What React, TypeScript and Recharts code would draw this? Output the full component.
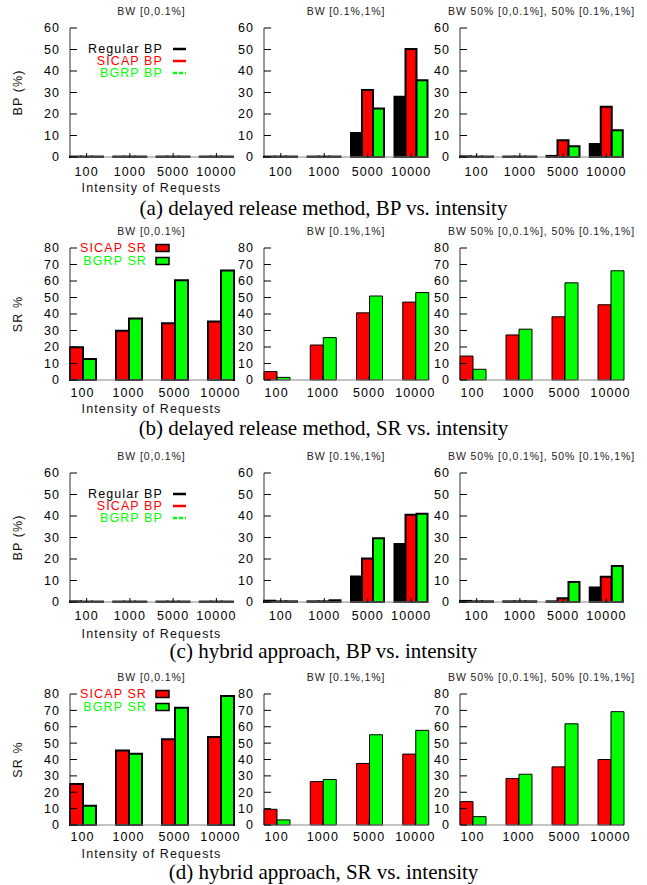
import { BarChart, Bar, XAxis, YAxis, Legend, Label } from "recharts";

// categories
const intensities = ["100", "1000", "5000", "10000"];
const bpTicks = [0, 10, 20, 30, 40, 50, 60];
const srTicks = [0, 10, 20, 30, 40, 50, 60, 70, 80];

const panelTitles = [
  "BW [0,0.1%]",
  "BW [0.1%,1%]",
  "BW 50% [0,0.1%], 50% [0.1%,1%]",
];
const captions = [
  "(a) delayed release method, BP vs. intensity",
  "(b) delayed release method, SR vs. intensity",
  "(c) hybrid approach, BP vs. intensity",
  "(d) hybrid approach, SR vs. intensity",
];

// (a) delayed release, BP (%)
const aRegular1 = [0.2, 0.2, 0.2, 0.2];
const aSicap1 = [0.2, 0.2, 0.2, 0.2];
const aBgrp1 = [0.2, 0.2, 0.2, 0.2];
const aRegular2 = [0.2, 0.2, 11.2, 28];
const aSicap2 = [0.2, 0.2, 31.2, 50.2];
const aBgrp2 = [0.2, 0.2, 22.6, 35.7];
const aRegular3 = [0.3, 0.2, 0.5, 6.1];
const aSicap3 = [0.2, 0.2, 7.8, 23.4];
const aBgrp3 = [0.2, 0.2, 5, 12.5];

// (b) delayed release, SR %
const bSicap1 = [19.8, 29.8, 34.4, 35.4];
const bBgrp1 = [12.8, 37.2, 60.5, 66.4];
const bSicap2 = [5.1, 21.2, 40.7, 47.2];
const bBgrp2 = [1.6, 25.7, 50.9, 53];
const bSicap3 = [14.5, 27.3, 38.3, 45.6];
const bBgrp3 = [6.5, 30.8, 58.9, 66.2];

// (c) hybrid, BP (%)
const cRegular1 = [0.3, 0.2, 0.2, 0.2];
const cSicap1 = [0.2, 0.2, 0.2, 0.2];
const cBgrp1 = [0.2, 0.2, 0.2, 0.2];
const cRegular2 = [0.6, 0.3, 11.9, 27];
const cSicap2 = [0.3, 0.3, 20.2, 40.6];
const cBgrp2 = [0.3, 0.8, 29.6, 41.1];
const cRegular3 = [0.5, 0.3, 0.3, 6.8];
const cSicap3 = [0.3, 0.3, 1.7, 11.8];
const cBgrp3 = [0.3, 0.3, 9.3, 16.7];

// (d) hybrid, SR %
const dSicap1 = [25.1, 45.5, 52.4, 53.7];
const dBgrp1 = [11.8, 43.5, 71.6, 78.8];
const dSicap2 = [9.6, 26.5, 37.6, 43.3];
const dBgrp2 = [3.1, 27.8, 55.1, 57.8];
const dSicap3 = [14.3, 28.4, 35.5, 40];
const dBgrp3 = [5.1, 31, 61.8, 69.2];

const RED = "#ff0000";
const GREEN = "#00ff00";
const BLACK = "#000000";

type Series = { name: string; values: number[]; color: string; dash?: string };

const bp = (r: number[], s: number[], g: number[]): Series[] => [
  { name: "Regular BP", values: r, color: BLACK },
  { name: "SICAP BP", values: s, color: RED },
  { name: "BGRP BP", values: g, color: GREEN, dash: "4 2" },
];
const sr = (s: number[], g: number[]): Series[] => [
  { name: "SICAP SR", values: s, color: RED },
  { name: "BGRP SR", values: g, color: GREEN },
];

const panelX = [70, 264, 460];
const panelW = [163, 164, 163];

type RowCfg = {
  top: number;
  h: number;
  ticks: number[];
  yLabel: string;
  kind: "line" | "box";
  gap: number;
  tickGap: number;
  labelDy: number;
  caption: number;
  heavy: boolean[];
  panels: Series[][];
};

const rows: RowCfg[] = [
  {
    top: 28, h: 129, ticks: bpTicks, yLabel: "BP (%)", kind: "line", gap: 10,
    tickGap: 14.5, labelDy: 31, caption: 208, heavy: [true, true, true],
    panels: [bp(aRegular1, aSicap1, aBgrp1), bp(aRegular2, aSicap2, aBgrp2), bp(aRegular3, aSicap3, aBgrp3)],
  },
  {
    top: 248, h: 132, ticks: srTicks, yLabel: "SR %", kind: "box", gap: 21,
    tickGap: 12, labelDy: 29, caption: 428, heavy: [true, false, false],
    panels: [sr(bSicap1, bBgrp1), sr(bSicap2, bBgrp2), sr(bSicap3, bBgrp3)],
  },
  {
    top: 473, h: 129, ticks: bpTicks, yLabel: "BP (%)", kind: "line", gap: 10,
    tickGap: 13.5, labelDy: 32, caption: 651, heavy: [true, true, true],
    panels: [bp(cRegular1, cSicap1, cBgrp1), bp(cRegular2, cSicap2, cBgrp2), bp(cRegular3, cSicap3, cBgrp3)],
  },
  {
    top: 694, h: 131, ticks: srTicks, yLabel: "SR %", kind: "box", gap: 21,
    tickGap: 11, labelDy: 29, caption: 872, heavy: [true, false, false],
    panels: [sr(dSicap1, dBgrp1), sr(dSicap2, dBgrp2), sr(dSicap3, dBgrp3)],
  },
];

const MT = 8;
const XH = 44;
const MR = 22;
const FS = 12.5;

function Panel({ row, idx }: { row: RowCfg; idx: number }) {
  const series = row.panels[idx];
  const first = idx === 0;
  const YW = first ? panelX[0] : 45;
  const plotW = panelW[idx];
  const half = row.gap / 2;
  const data = intensities.map((name, i) => {
    const d: Record<string, any> = { name };
    series.forEach((s, k) => (d["s" + k] = s.values[i]));
    return d;
  });
  const chartW = YW + plotW + MR;
  const chartH = MT + row.h + XH;

  const legendContent = () => (
    <svg width={chartW} height={MT + row.h} style={{ display: "block" }}>
      {series.map((s, k) => {
        if (row.kind === "line") {
          const y = MT + 21 + k * 12;
          return (
            <g key={s.name}>
              <text x={163} y={y} dy="0.35em" textAnchor="end" fill={s.color} fontSize={FS}>
                {s.name}
              </text>
              <line x1={173} x2={186} y1={y} y2={y} stroke={s.color} strokeWidth={2.5} strokeDasharray={s.dash} />
            </g>
          );
        }
        const y = MT + k * 13;
        return (
          <g key={s.name}>
            <text x={147} y={y} dy="0.35em" textAnchor="end" fill={s.color} fontSize={FS}>
              {s.name}
            </text>
            <rect x={156} y={y - 3.5} width={13} height={7} fill={s.color} stroke={BLACK} strokeWidth={1.5} />
          </g>
        );
      })}
    </svg>
  );

  return (
    <div style={{ position: "absolute", left: panelX[idx] - YW, top: row.top - MT }}>
      <div
        style={{
          position: "absolute",
          left: YW - 20,
          width: plotW + 40,
          top: MT - 17 - 6,
          height: 12,
          lineHeight: "12px",
          fontSize: 10.5,
          letterSpacing: "0.9px",
          textAlign: "center",
          whiteSpace: "nowrap",
          color: "#222",
        }}
      >
        {panelTitles[idx]}
      </div>
      <BarChart
        width={chartW}
        height={chartH}
        data={data}
        margin={{ top: MT, right: MR, left: 0, bottom: 0 }}
        barGap={0}
        barCategoryGap={half}
      >
        <XAxis
          dataKey="name"
          interval={0}
          height={XH}
          padding={{ left: -half, right: -half }}
          tickSize={-4}
          tickMargin={row.tickGap}
          tickLine={{ stroke: BLACK }}
          axisLine={{ stroke: "#888" }}
          tick={{ fill: BLACK, fontSize: FS }}
        >
          {first && (
            <Label
              content={(p: any) => (
                <text
                  x={p.viewBox.x + p.viewBox.width / 2}
                  y={MT + row.h + row.labelDy}
                  dy="0.35em"
                  textAnchor="middle"
                  fontSize={FS}
                  fill="#111"
                >
                  Intensity of Requests
                </text>
              )}
            />
          )}
        </XAxis>
        <YAxis
          width={YW}
          type="number"
          domain={[0, row.ticks[row.ticks.length - 1]]}
          ticks={row.ticks}
          interval={0}
          tickSize={-7}
          tickMargin={17}
          tickLine={{ stroke: BLACK }}
          axisLine={{ stroke: "#333" }}
          tick={{ fill: BLACK, fontSize: FS }}
        >
          {first && (
            <Label
              content={() => (
                <text
                  x={18}
                  y={MT + row.h / 2}
                  dy="0.35em"
                  textAnchor="middle"
                  fontSize={FS}
                  fill="#111"
                  transform={`rotate(-90 18 ${MT + row.h / 2})`}
                >
                  {row.yLabel}
                </text>
              )}
            />
          )}
        </YAxis>
        {first && (
          <Legend
            layout="horizontal"
            verticalAlign="middle"
            align="center"
            wrapperStyle={{ left: 0, top: 0, width: chartW, height: MT + row.h }}
            content={legendContent}
          />
        )}
        {series.map((s, k) => (
          <Bar
            key={s.name}
            dataKey={"s" + k}
            name={s.name}
            fill={s.color}
            stroke={BLACK}
            strokeWidth={row.heavy[idx] ? 2 : 1}
            isAnimationActive={false}
          />
        ))}
      </BarChart>
    </div>
  );
}

export default function App() {
  return (
    <div
      style={{
        position: "absolute",
        left: 0,
        top: 0,
        width: 647,
        height: 885,
        background: "#fff",
        fontFamily: "'Liberation Sans', Arial, sans-serif",
        letterSpacing: "1.1px",
      }}
    >
      {rows.map((row, r) => (
        <div key={r}>
          {[0, 1, 2].map((i) => (
            <Panel key={i} row={row} idx={i} />
          ))}
          <div
            style={{
              position: "absolute",
              left: 0,
              width: 647,
              top: row.caption - 12,
              height: 24,
              lineHeight: "24px",
              textAlign: "center",
              fontFamily: "'Liberation Serif', 'Times New Roman', serif",
              fontSize: 21,
              letterSpacing: 0,
              color: "#000",
            }}
          >
            {captions[r]}
          </div>
        </div>
      ))}
    </div>
  );
}
